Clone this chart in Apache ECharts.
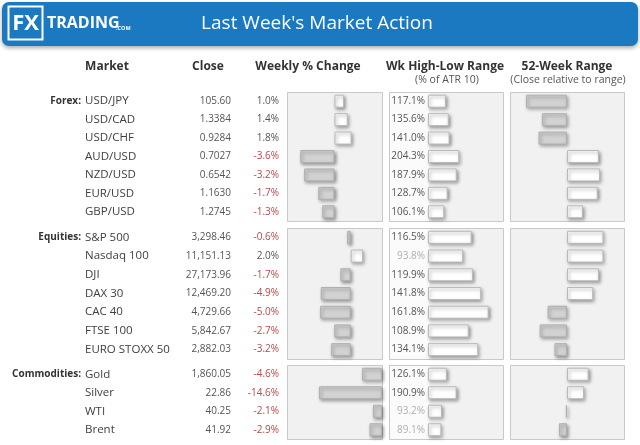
<!DOCTYPE html>
<html><head><meta charset="utf-8">
<script src="https://cdn.jsdelivr.net/npm/echarts@6/dist/echarts.min.js"></script>
<style>html,body{margin:0;padding:0;background:#fff}#c{width:640px;height:445px}</style>
</head><body><div id="c"></div>
<script>
// ---- data ----
const groupNames = ['Forex:', 'Equities:', 'Commodities:'];

const forexMarkets = ['USD/JPY','USD/CAD','USD/CHF','AUD/USD','NZD/USD','EUR/USD','GBP/USD'];
const forexClose   = ['105.60','1.3384','0.9284','0.7027','0.6542','1.1630','1.2745'];
const forexChange  = [1.0, 1.4, 1.8, -3.6, -3.2, -1.7, -1.3];
const forexAtr     = [117.1, 135.6, 141.0, 204.3, 187.9, 128.7, 106.1];
const forexRange52 = [14, 28, 25, 78, 79, 77, 64];

const equityMarkets = ['S&P 500','Nasdaq 100','DJI','DAX 30','CAC 40','FTSE 100','EURO STOXX 50'];
const equityClose   = ['3,298.46','11,151.13','27,173.96','12,469.20','4,729.66','5,842.67','2,882.03'];
const equityChange  = [-0.6, 2.0, -1.7, -4.9, -5.0, -2.7, -3.2];
const equityAtr     = [116.5, 93.8, 119.9, 141.8, 161.8, 108.9, 134.1];
const equityRange52 = [82, 82, 78, 73, 33, 26, 39];

const commodMarkets = ['Gold','Silver','WTI','Brent'];
const commodClose   = ['1,860.05','22.86','40.25','41.92'];
const commodChange  = [-4.6, -14.6, -2.1, -2.9];
const commodAtr     = [126.1, 190.9, 93.2, 89.1];
const commodRange52 = [69, 65, 49, 43];

const headers = ['Market','Close','Weekly % Change','Wk High-Low Range','52-Week Range'];
const subHeaders = ['(% of ATR 10)','(Close relative to range)'];
const titleText = "Last Week's Market Action";

// ---- layout ----
const FONT = 'Open Sans';
const groups = [
  {name: groupNames[0], m: forexMarkets, c: forexClose, ch: forexChange, atr: forexAtr, r: forexRange52,
   top: 92, h: 129, chMin: -5, chMax: 5, atrMax: 490},
  {name: groupNames[1], m: equityMarkets, c: equityClose, ch: equityChange, atr: equityAtr, r: equityRange52,
   top: 228, h: 131, chMin: -10.4, chMax: 5.1, atrMax: 200},
  {name: groupNames[2], m: commodMarkets, c: commodClose, ch: commodChange, atr: commodAtr, r: commodRange52,
   top: 365, h: 74, chMin: -22, chMax: 0, atrMax: 500}
];
const P1 = {x: 287, w: 95}, P2 = {x: 389, w: 114, lab: 39}, P3 = {x: 510, w: 114};

const shadow = {shadowColor: 'rgba(0,0,0,0.38)', shadowBlur: 3.5, shadowOffsetX: 1.5, shadowOffsetY: 2};
const posStyle = Object.assign({color: '#ffffff', borderColor: '#bababa', borderWidth: 1}, shadow);
const negStyle = Object.assign({color: '#d2d2d2', borderColor: '#b0b0b0', borderWidth: 1}, shadow);
const RED = '#b8474a';
const BW = 13;

const grid = [], xAxis = [], yAxis = [], series = [], graphic = [];

// header
graphic.push({type: 'rect', shape: {x: 2, y: 2, width: 636, height: 44, r: 7},
  style: {fill: '#1a79c1', shadowBlur: 4, shadowColor: 'rgba(0,0,0,0.35)', shadowOffsetY: 2}, z: 1});
graphic.push({type: 'rect', shape: {x: 8.5, y: 6.5, width: 34, height: 33},
  style: {fill: 'none', stroke: '#ffffff', lineWidth: 2}, z: 2});
graphic.push({type: 'text', x: 25.5, y: 23.5, z: 3, style: {text: 'FX', fill: '#fff', font: 'bold 22px "Open Sans"', align: 'center', verticalAlign: 'middle'}});
graphic.push({type: 'text', x: 47, y: 23.5, z: 3, style: {text: 'TRADING', fill: '#fff', font: 'bold 16px "Open Sans"', align: 'left', verticalAlign: 'middle'}});
graphic.push({type: 'text', x: 116, y: 28, z: 3, style: {text: '.COM', fill: '#fff', font: 'bold 5.5px "Open Sans"', align: 'left', verticalAlign: 'middle'}});
graphic.push({type: 'text', x: 317, y: 24, z: 3, style: {text: titleText, fill: '#fff', font: '19px "Open Sans"', align: 'center', verticalAlign: 'middle'}});

// column headers
const hx = [107, 208, 308, 445, 567];
headers.forEach((t, i) => graphic.push({type: 'text', x: hx[i], y: 67, z: 3,
  style: {text: t, fill: '#333', font: 'bold 12px "Open Sans"', align: 'center', verticalAlign: 'middle'}}));
graphic.push({type: 'text', x: 447, y: 80, z: 3, style: {text: subHeaders[0], fill: '#555', font: '10.5px "Open Sans"', align: 'center', verticalAlign: 'middle'}});
graphic.push({type: 'text', x: 568, y: 80, z: 3, style: {text: subHeaders[1], fill: '#555', font: '10.5px "Open Sans"', align: 'center', verticalAlign: 'middle'}});

groups.forEach((g, gi) => {
  // panels
  [P1, P2, P3].forEach(p => graphic.push({type: 'rect', z: 0,
    shape: {x: p.x + 0.5, y: g.top + 0.5, width: p.w, height: g.h},
    style: {fill: '#f1f1f1', stroke: '#c9c9c9', lineWidth: 1}}));
  graphic.push({type: 'rect', z: 0, shape: {x: P2.x + 1, y: g.top + 1, width: P2.lab, height: g.h - 1},
    style: {fill: '#fbfbfb'}});
  // group label
  const rowH = g.h / g.m.length;
  graphic.push({type: 'text', x: 81, y: g.top + rowH / 2, z: 3,
    style: {text: g.name, fill: '#333', font: 'bold 10px "Open Sans"', align: 'right', verticalAlign: 'middle'}});

  const hiddenLine = {show: false};
  // grid 1: weekly change
  const g1 = grid.length;
  grid.push({left: P1.x, width: P1.w, top: g.top, height: g.h});
  xAxis.push({type: 'value', gridIndex: g1, min: g.chMin, max: g.chMax, show: false});
  const yNames = yAxis.length;
  yAxis.push({type: 'category', gridIndex: g1, inverse: true, data: g.m, position: 'left',
    axisLine: hiddenLine, axisTick: hiddenLine, splitLine: hiddenLine,
    axisLabel: {interval: 0, align: 'left', margin: 202, fontFamily: FONT, fontSize: 11.5, color: '#404040'}});
  yAxis.push({type: 'category', gridIndex: g1, inverse: true, data: g.m, position: 'left',
    axisLine: hiddenLine, axisTick: hiddenLine, splitLine: hiddenLine,
    axisLabel: {interval: 0, align: 'right', margin: 56, fontFamily: FONT, fontSize: 10, color: '#555',
      formatter: (v, i) => g.c[i]}});
  yAxis.push({type: 'category', gridIndex: g1, inverse: true, data: g.m, position: 'left',
    axisLine: hiddenLine, axisTick: hiddenLine, splitLine: hiddenLine,
    axisLabel: {interval: 0, align: 'right', margin: 8, fontFamily: FONT, fontSize: 10,
      formatter: (v, i) => g.ch[i].toFixed(1) + '%',
      color: (v, i) => g.ch[i] < 0 ? RED : '#555'}});
  series.push({type: 'bar', xAxisIndex: g1, yAxisIndex: yNames, barWidth: BW, silent: true,
    data: g.ch.map(v => ({value: v, itemStyle: v < 0 ? negStyle : posStyle}))});

  // grid 2: ATR range
  const g2 = grid.length;
  grid.push({left: P2.x + P2.lab, width: P2.w - P2.lab, top: g.top, height: g.h});
  xAxis.push({type: 'value', gridIndex: g2, min: 0, max: g.atrMax, show: false});
  const yAtr = yAxis.length;
  yAxis.push({type: 'category', gridIndex: g2, inverse: true, data: g.m, position: 'left',
    axisLine: hiddenLine, axisTick: hiddenLine, splitLine: hiddenLine,
    axisLabel: {interval: 0, align: 'right', margin: 3, fontFamily: FONT, fontSize: 10,
      formatter: (v, i) => g.atr[i].toFixed(1) + '%',
      color: (v, i) => g.atr[i] < 100 ? '#b0b0b0' : '#555'}});
  series.push({type: 'bar', xAxisIndex: g2, yAxisIndex: yAtr, barWidth: BW, silent: true,
    data: g.atr.map(v => ({value: v, itemStyle: posStyle}))});

  // grid 3: 52-week range (close position within range, 50 = mid)
  const g3 = grid.length;
  grid.push({left: P3.x, width: P3.w, top: g.top, height: g.h});
  xAxis.push({type: 'value', gridIndex: g3, min: -50, max: 50, show: false});
  const y52 = yAxis.length;
  yAxis.push({type: 'category', gridIndex: g3, inverse: true, data: g.m, show: false});
  series.push({type: 'bar', xAxisIndex: g3, yAxisIndex: y52, barWidth: BW, silent: true,
    data: g.r.map(v => ({value: v - 50, itemStyle: v < 50 ? negStyle : posStyle}))});
});

const chart = echarts.init(document.getElementById('c'), null, {renderer: 'canvas'});
chart.setOption({animation: false, textStyle: {fontFamily: FONT}, grid, xAxis, yAxis, series, graphic});
</script></body></html>
